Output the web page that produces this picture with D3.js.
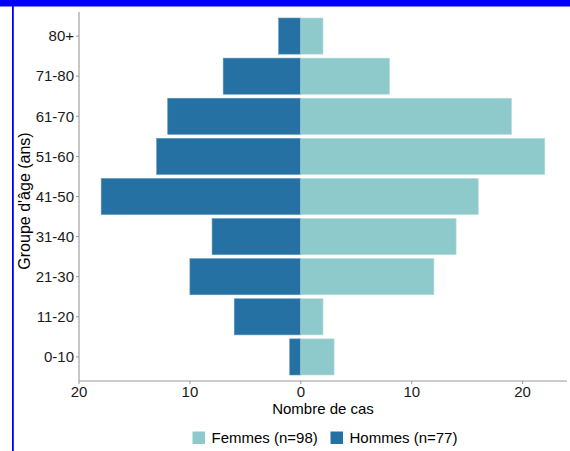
<!DOCTYPE html>
<html><head><meta charset="utf-8">
<script src="https://cdn.jsdelivr.net/npm/d3@7"></script>
<style>body{margin:0;background:#fff;}svg{display:block;}</style>
</head><body>
<svg id="c" width="570" height="451"></svg>
<script>
const ageGroups = ["0-10","11-20","21-30","31-40","41-50","51-60","61-70","71-80","80+"];
const femmes = [3,2,12,14,16,22,19,8,2];
const hommes = [1,6,10,8,18,13,12,7,2];
const xTicks = [-20,-10,0,10,20];
const seriesNames = ["Femmes (n=98)","Hommes (n=77)"];
const colors = {F:"#8ecacb", H:"#2571a3"};

(function(){
const svg = d3.select("#c");
// blue frame
svg.append("rect").attr("x",0).attr("y",0).attr("width",570).attr("height",6.5).attr("fill","#0000ff");
svg.append("rect").attr("x",12).attr("y",0).attr("width",1.8).attr("height",451).attr("fill","#0000ff");

const pL=79, pR=567, pT=12, pB=381;
const x = d3.scaleLinear().domain([-20,24]).range([pL,pR]);
const y = d3.scalePoint().domain(ageGroups.slice().reverse()).range([pT,pB]).padding(0.6);
const bw = 0.9*y.step();

const font="Liberation Sans, Arial, sans-serif";
const g = svg.append("g");
g.selectAll("rect.h").data(ageGroups).join("rect").attr("class","h")
  .attr("x",(a,i)=>x(-hommes[i])).attr("y",a=>y(a)-bw/2)
  .attr("width",(a,i)=>x(0)-x(-hommes[i])).attr("height",bw)
  .attr("fill",colors.H).attr("stroke","#5d93bb").attr("stroke-width",0.6);
g.selectAll("rect.f").data(ageGroups).join("rect").attr("class","f")
  .attr("x",x(0)).attr("y",a=>y(a)-bw/2)
  .attr("width",(a,i)=>x(femmes[i])-x(0)).attr("height",bw)
  .attr("fill",colors.F).attr("stroke","#b5dcdd").attr("stroke-width",0.6);

const axCol="#999", txtCol="#1a1a1a";
svg.append("line").attr("x1",pL).attr("x2",pL).attr("y1",pT).attr("y2",pB).attr("stroke",axCol).attr("stroke-width",1.1);
svg.append("line").attr("x1",pL).attr("x2",pR).attr("y1",pB).attr("y2",pB).attr("stroke",axCol).attr("stroke-width",1.1);

ageGroups.forEach(a=>{
  svg.append("line").attr("x1",pL-3).attr("x2",pL).attr("y1",y(a)).attr("y2",y(a)).attr("stroke",axCol);
  svg.append("text").attr("x",pL-5).attr("y",y(a)).attr("dy","0.35em").attr("text-anchor","end")
    .attr("font-family",font).attr("font-size",15).attr("fill",txtCol).text(a);
});
xTicks.forEach(t=>{
  svg.append("line").attr("x1",x(t)).attr("x2",x(t)).attr("y1",pB).attr("y2",pB+3).attr("stroke",axCol);
  svg.append("text").attr("x",x(t)).attr("y",pB+16).attr("text-anchor","middle")
    .attr("font-family",font).attr("font-size",15).attr("fill",txtCol).text(Math.abs(t));
});
svg.append("text").attr("x",(pL+pR)/2).attr("y",414).attr("text-anchor","middle")
  .attr("font-family",font).attr("font-size",15).attr("fill","#000").text("Nombre de cas");
svg.append("text").attr("transform",`translate(30,201) rotate(-90)`).attr("text-anchor","middle")
  .attr("font-family",font).attr("font-size",16).attr("fill","#000").text("Groupe d'âge (ans)");

const leg = [{n:seriesNames[0],c:colors.F,x:192.5},{n:seriesNames[1],c:colors.H,x:330.5}];
leg.forEach(l=>{
  svg.append("rect").attr("x",l.x).attr("y",431.5).attr("width",12.5).attr("height",12.5).attr("fill",l.c);
  svg.append("text").attr("x",l.x+19).attr("y",438).attr("dy","0.35em")
    .attr("font-family",font).attr("font-size",15).attr("fill","#000").text(l.n);
});
})();
</script>
</body></html>
